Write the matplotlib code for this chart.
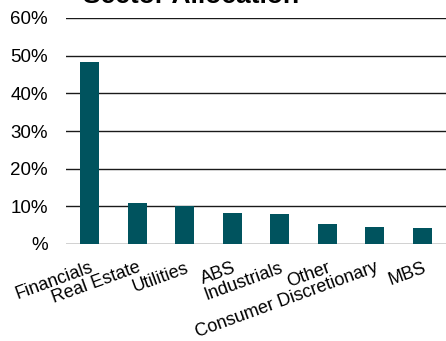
import matplotlib
matplotlib.use("Agg")
import matplotlib.pyplot as plt
from matplotlib.ticker import FuncFormatter

sectors = ["Financials", "Real Estate", "Utilities", "ABS", "Industrials",
           "Other", "Consumer Discretionary", "MBS"]
weights = [48.3, 10.9, 10.0, 8.3, 8.0, 5.4, 4.4, 4.2]
yticks = [0, 10, 20, 30, 40, 50, 60]

plt.rcParams["font.family"] = ["Liberation Sans", "DejaVu Sans"]

fig = plt.figure(figsize=(4.46, 3.41), dpi=100)
ax = fig.add_axes([66 / 446, 1 - 244 / 341, 380 / 446, (244 - 18) / 341])

ax.bar(range(len(sectors)), weights, width=0.4, color="#00535E", zorder=3)

ax.set_xlim(-0.5, len(sectors) - 0.5)
ax.set_ylim(0, 60)
ax.set_yticks(yticks)
ax.yaxis.set_major_formatter(FuncFormatter(lambda v, p: "%" if v == 0 else f"{v:.0f}%"))
ax.grid(axis="y", color="#1a1a1a", linewidth=1.0, zorder=0)
ax.tick_params(axis="y", length=0, pad=13, labelsize=13.5)
ax.tick_params(axis="x", length=0, pad=11, labelsize=13)

ax.set_xticks(range(len(sectors)))
ax.set_xticklabels(sectors, rotation=20, ha="right", rotation_mode="anchor")

for s in ax.spines.values():
    s.set_visible(False)

fig.text(83 / 446, 1 - 3 / 341, "Sector Allocation", fontsize=19, fontweight="bold",
         ha="left", va="baseline")

fig.savefig("out.png", dpi=100)
